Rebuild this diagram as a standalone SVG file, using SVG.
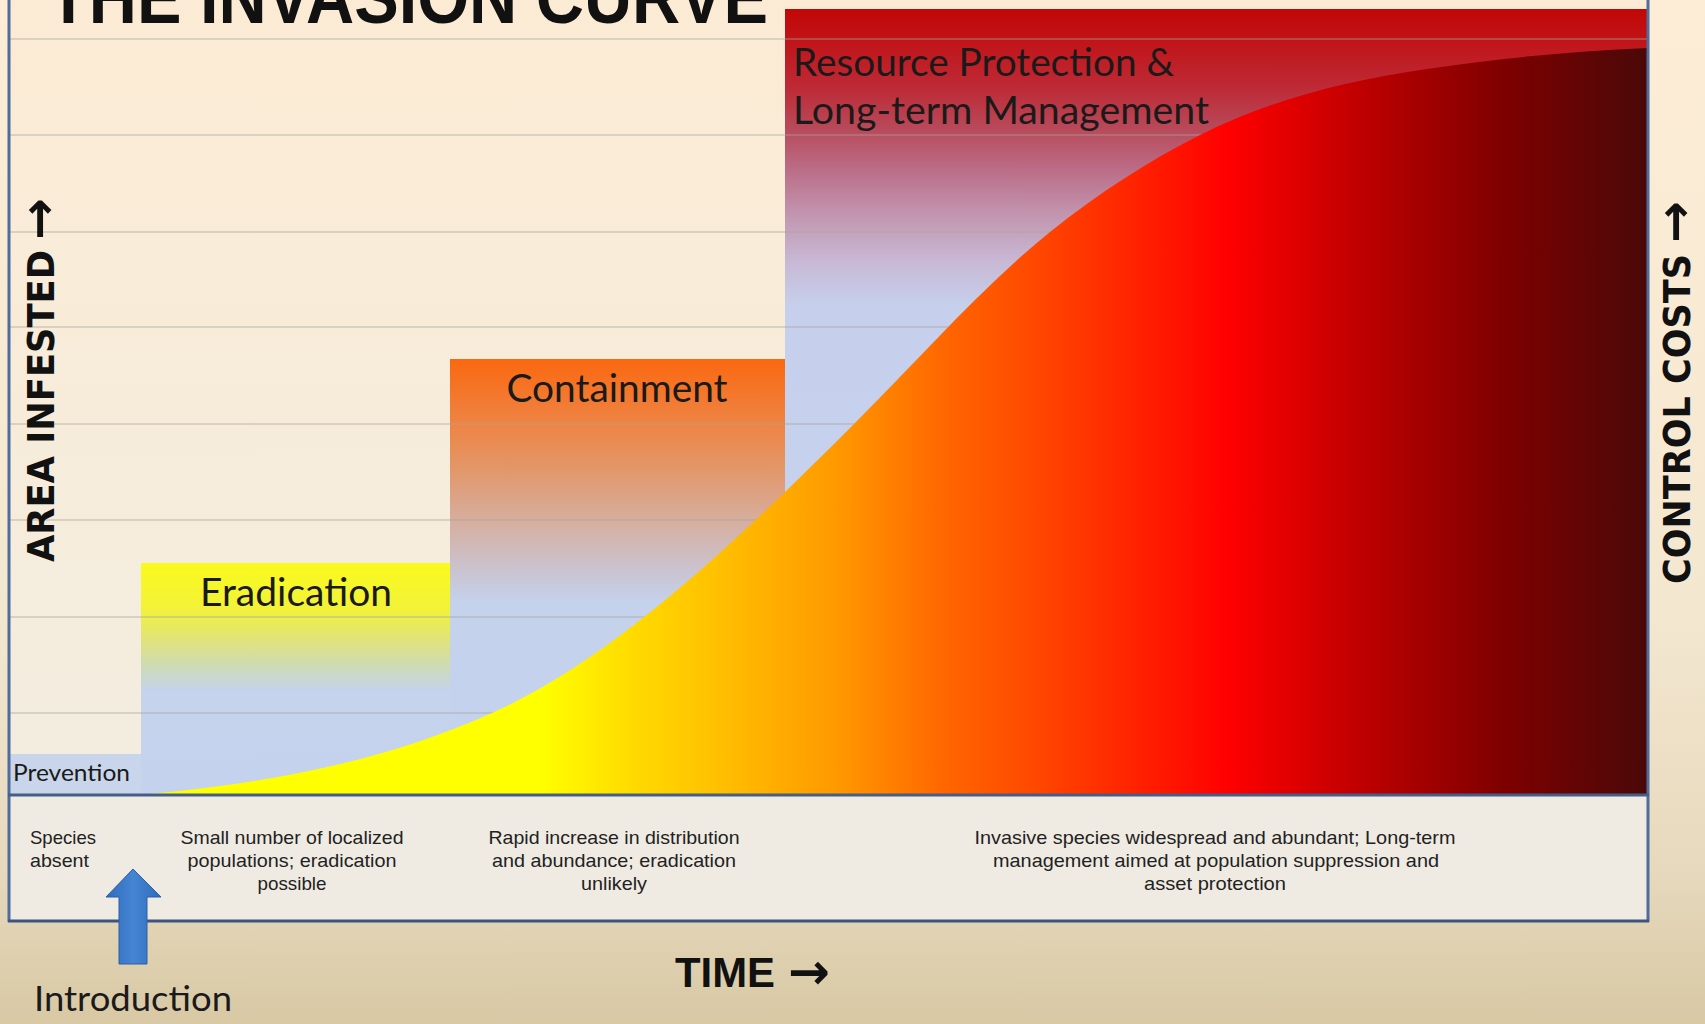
<svg xmlns="http://www.w3.org/2000/svg" width="1705" height="1024" viewBox="0 0 1705 1024">
<defs>
<style>
.cal{font-family:Lato,"Open Sans","Noto Sans",sans-serif;fill:#1a1a1a}
.tah{font-family:"Liberation Sans","DejaVu Sans",sans-serif;font-size:18.5px;fill:#222}
.axis{font-family:"DejaVu Sans","Liberation Sans",sans-serif;font-weight:bold;font-size:38px;fill:#111}
.arr{font-family:"DejaVu Sans","Liberation Sans",sans-serif;font-weight:bold;font-size:50px;fill:#111}
.grid{stroke:#a9a49a;stroke-width:1.2;opacity:0.75}
.frame{stroke:#4f6d9c;stroke-width:3;fill:none}
</style>
<linearGradient id="bg" x1="0" y1="0" x2="0" y2="1">
<stop offset="0" stop-color="#fdedd6"/>
<stop offset="0.6" stop-color="#f4e7d0"/>
<stop offset="0.85" stop-color="#e6d9bd"/>
<stop offset="1" stop-color="#d8c8a4"/>
</linearGradient>
<linearGradient id="chartbg" x1="0" y1="0" x2="0" y2="1">
<stop offset="0" stop-color="#fcebd4"/>
<stop offset="1" stop-color="#f2ede0"/>
</linearGradient>
<linearGradient id="gErad" x1="0" y1="0" x2="0" y2="1">
<stop offset="0" stop-color="#fafa1e"/>
<stop offset="0.2" stop-color="#f2f23a"/>
<stop offset="0.33" stop-color="#e0e37a"/>
<stop offset="0.45" stop-color="#cddab8"/>
<stop offset="0.55" stop-color="#c5d3ec"/>
<stop offset="1" stop-color="#c4d2ee"/>
</linearGradient>
<linearGradient id="gCont" x1="0" y1="0" x2="0" y2="1">
<stop offset="0" stop-color="#fa6810"/>
<stop offset="0.15" stop-color="#ee8444"/>
<stop offset="0.26" stop-color="#e2986c"/>
<stop offset="0.37" stop-color="#d6ae9e"/>
<stop offset="0.49" stop-color="#cac4d2"/>
<stop offset="0.56" stop-color="#c5d2ec"/>
<stop offset="1" stop-color="#c4d2ee"/>
</linearGradient>
<linearGradient id="gRes" x1="0" y1="0" x2="0" y2="1">
<stop offset="0" stop-color="#c20606"/>
<stop offset="0.04" stop-color="#c01418"/>
<stop offset="0.1" stop-color="#be2a36"/>
<stop offset="0.15" stop-color="#b84858"/>
<stop offset="0.2" stop-color="#bb6a84"/>
<stop offset="0.26" stop-color="#c294ae"/>
<stop offset="0.32" stop-color="#c8b8d4"/>
<stop offset="0.38" stop-color="#c6d0ec"/>
<stop offset="1" stop-color="#c6d3ee"/>
</linearGradient>
<linearGradient id="gCurve" gradientUnits="userSpaceOnUse" x1="150" y1="0" x2="1648" y2="0">
<stop offset="0" stop-color="#ffff00"/>
<stop offset="0.26" stop-color="#ffff00"/>
<stop offset="0.327" stop-color="#ffd800"/>
<stop offset="0.379" stop-color="#ffc000"/>
<stop offset="0.456" stop-color="#ff9a00"/>
<stop offset="0.532" stop-color="#ff6500"/>
<stop offset="0.596" stop-color="#ff4500"/>
<stop offset="0.662" stop-color="#ff2000"/>
<stop offset="0.72" stop-color="#ff0000"/>
<stop offset="0.807" stop-color="#c00000"/>
<stop offset="0.901" stop-color="#800000"/>
<stop offset="1" stop-color="#4a0808"/>
</linearGradient>
<linearGradient id="gArrow" x1="0" y1="0" x2="1" y2="0">
<stop offset="0" stop-color="#2f6bbd"/>
<stop offset="0.5" stop-color="#4585d2"/>
<stop offset="1" stop-color="#2f6bbd"/>
</linearGradient>
</defs>

<rect x="0" y="0" width="1705" height="1024" fill="url(#bg)"/>

<g id="chart-area">
<rect x="9" y="-5" width="1639" height="800" fill="url(#chartbg)"/>
</g>

<g id="title">
<text x="48" y="23" font-family="'Liberation Sans Narrow','Liberation Sans',sans-serif" font-weight="bold" font-size="74" fill="#111" textLength="720" lengthAdjust="spacingAndGlyphs">THE INVASION CURVE</text>
</g>

<g id="prevention">
<rect x="9" y="754" width="132" height="41" fill="#c9d5ea"/>
<text class="cal" x="13" y="781" font-size="23" textLength="117" lengthAdjust="spacingAndGlyphs">Prevention</text>
</g>

<g id="eradication">
<rect x="141" y="563" width="309" height="232" fill="url(#gErad)"/>
</g>

<g id="containment">
<rect x="450" y="359" width="335" height="436" fill="url(#gCont)"/>
</g>

<g id="resource">
<rect x="785" y="9" width="863" height="786" fill="url(#gRes)"/>
</g>

<g id="gridlines">
<line class="grid" x1="9" y1="39" x2="1648" y2="39"/>
<line class="grid" x1="9" y1="135" x2="1648" y2="135"/>
<line class="grid" x1="9" y1="232" x2="1648" y2="232"/>
<line class="grid" x1="9" y1="327" x2="1648" y2="327"/>
<line class="grid" x1="9" y1="424" x2="1648" y2="424"/>
<line class="grid" x1="9" y1="520" x2="1648" y2="520"/>
<line class="grid" x1="9" y1="617" x2="1648" y2="617"/>
<line class="grid" x1="9" y1="713" x2="1648" y2="713"/>
</g>

<g id="curve">
<path d="M150,795 L150,794 C264,783 378,764 492,713 C613,659 733,545 854,424 C919,359 985,284 1050,232 C1100,192 1150,160 1200,135 C1273,98.5 1347,81 1420,70 C1496,58.6 1572,51 1648,48 L1648,795 Z" fill="url(#gCurve)"/>
</g>

<g id="labels">
<text class="cal" x="296" y="606" font-size="38" text-anchor="middle" textLength="192" lengthAdjust="spacingAndGlyphs">Eradication</text>
<text class="cal" x="617" y="402" font-size="38" text-anchor="middle" textLength="221" lengthAdjust="spacingAndGlyphs">Containment</text>
<text class="cal" x="793" y="76" font-size="38" textLength="381" lengthAdjust="spacingAndGlyphs">Resource Protection &amp;</text>
<text class="cal" x="793" y="124" font-size="38" textLength="416" lengthAdjust="spacingAndGlyphs">Long-term Management</text>
</g>

<g id="panel">
<rect x="9" y="795" width="1639" height="126" fill="#efebe2"/>
<text class="tah" x="30" y="844" textLength="66" lengthAdjust="spacingAndGlyphs">Species</text>
<text class="tah" x="30" y="867" textLength="59" lengthAdjust="spacingAndGlyphs">absent</text>
<text class="tah" x="292" y="844" text-anchor="middle" textLength="223" lengthAdjust="spacingAndGlyphs">Small number of localized</text>
<text class="tah" x="292" y="867" text-anchor="middle" textLength="209" lengthAdjust="spacingAndGlyphs">populations; eradication</text>
<text class="tah" x="292" y="890" text-anchor="middle" textLength="69" lengthAdjust="spacingAndGlyphs">possible</text>
<text class="tah" x="614" y="844" text-anchor="middle" textLength="251" lengthAdjust="spacingAndGlyphs">Rapid increase in distribution</text>
<text class="tah" x="614" y="867" text-anchor="middle" textLength="244" lengthAdjust="spacingAndGlyphs">and abundance; eradication</text>
<text class="tah" x="614" y="890" text-anchor="middle" textLength="66" lengthAdjust="spacingAndGlyphs">unlikely</text>
<text class="tah" x="1215" y="844" text-anchor="middle" textLength="481" lengthAdjust="spacingAndGlyphs">Invasive species widespread and abundant; Long-term</text>
<text class="tah" x="1216" y="867" text-anchor="middle" textLength="446" lengthAdjust="spacingAndGlyphs">management aimed at population suppression and</text>
<text class="tah" x="1215" y="890" text-anchor="middle" textLength="142" lengthAdjust="spacingAndGlyphs">asset protection</text>
</g>

<g id="frame">
<line class="frame" x1="9" y1="-5" x2="9" y2="922"/>
<line class="frame" x1="1648" y1="-5" x2="1648" y2="922"/>
<line x1="8" y1="795" x2="1649" y2="795" stroke="#435e88" stroke-width="3"/>
<line x1="8" y1="921" x2="1649" y2="921" stroke="#3c5580" stroke-width="3"/>
</g>

<g id="axis-area">
<text class="axis" transform="translate(54,562) rotate(-90)"><tspan textLength="312" lengthAdjust="spacingAndGlyphs">AREA INFESTED</tspan><tspan class="arr" x="322" dy="2">→</tspan></text>
</g>

<g id="axis-cost">
<text class="axis" transform="translate(1690,584) rotate(-90)"><tspan textLength="330" lengthAdjust="spacingAndGlyphs">CONTROL COSTS</tspan><tspan class="arr" x="341" dy="2">→</tspan></text>
</g>

<g id="time">
<text x="675" y="987" font-family="'Liberation Sans Narrow','Liberation Sans',sans-serif" font-weight="bold" font-size="42" fill="#111"><tspan textLength="100" lengthAdjust="spacingAndGlyphs">TIME</tspan><tspan class="arr" x="788" y="989" font-size="48">→</tspan></text>
</g>

<g id="connectors">
<polygon points="133,869 161,897 147,897 147,964 119,964 119,897 106,897" fill="url(#gArrow)" stroke="#2a5fa8" stroke-width="1"/>
</g>

<g id="introduction">
<text class="cal" x="34" y="1011" font-size="35" textLength="198" lengthAdjust="spacingAndGlyphs">Introduction</text>
</g>
</svg>
